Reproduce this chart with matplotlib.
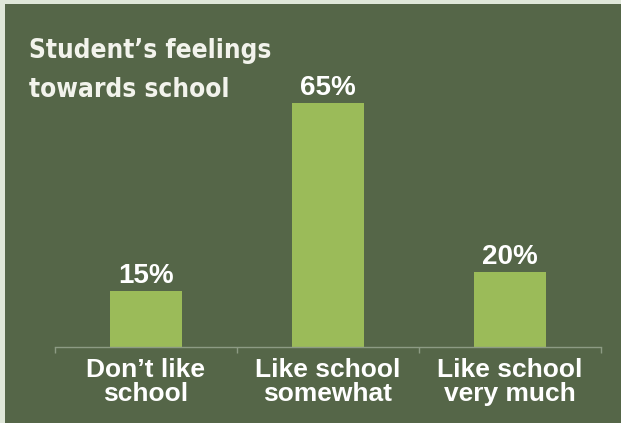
import matplotlib
matplotlib.use("Agg")
import matplotlib.pyplot as plt
from matplotlib.patches import Rectangle
from matplotlib import font_manager as fm

categories = ["Don\u2019t like\nschool", "Like school\nsomewhat", "Like school\nvery much"]
values = [15, 65, 20]
value_labels = ["15%", "65%", "20%"]
title_lines = ["Student\u2019s feelings", "towards school"]

BG = "#556648"
BORDER = "#dfe7d9"
BAR = "#9bbb59"
W, H = 621, 423
DPI = 100

fig = plt.figure(figsize=(W / DPI, H / DPI), dpi=DPI, facecolor=BORDER)
r = fig.canvas.get_renderer()

# heavy, condensed-looking bold for the title
title_family, title_stretch = "Liberation Sans", "normal"
try:
    p = fm.findfont(fm.FontProperties(family="DejaVu Sans", weight="bold", stretch="condensed"),
                    fallback_to_default=False)
    if "ondensed" in p:
        title_family, title_stretch = "DejaVu Sans", "condensed"
except Exception:
    pass
fp = fm.FontProperties(family=title_family, weight="bold", stretch=title_stretch, size=30)
w30, _, _ = r.get_text_width_height_descent(title_lines[0], fp, ismath=False)
_, hc, dc = r.get_text_width_height_descent("H", fp, ismath=False)
cap30 = hc - dc
s_cap = 30 * 22.0 / cap30
s_w = 30 * 214.0 / w30
title_size = (s_cap ** 0.5) * (s_w ** 0.5)

fig.patches.append(Rectangle((5 / W, 0), 1, (H - 4) / H, transform=fig.transFigure,
                             facecolor=BG, edgecolor="none", zorder=-10))

ax = fig.add_axes([55 / W, (H - 347) / H, 546 / W, 262.8 / H])
ax.set_zorder(1)
ax.set_facecolor("none")
x = list(range(len(values)))
ax.bar(x, values, width=0.4, color=BAR, zorder=2)
ax.set_xlim(-0.5, 2.5)
ax.set_ylim(0, 70)
for s in ["top", "right", "left"]:
    ax.spines[s].set_visible(False)
ax.spines["bottom"].set_color("#8d9b84")
ax.spines["bottom"].set_linewidth(1.0)
ax.set_yticks([])
ax.set_xticks([-0.5, 0.5, 1.5, 2.5])
ax.set_xticklabels([])
ax.tick_params(axis="x", length=4, width=1.0, color="#8d9b84", direction="out")

for i in x:
    ax.annotate(categories[i], xy=(i, 0), xytext=(0, -11), textcoords="offset pixels",
                ha="center", va="top", multialignment="center", linespacing=0.98,
                family=["Liberation Sans", "DejaVu Sans"], weight="bold",
                color="white", fontsize=19)
    ax.annotate(value_labels[i], xy=(i, values[i]), xytext=(0, 8), textcoords="offset pixels",
                ha="center", va="baseline", family=["Liberation Sans", "DejaVu Sans"],
                weight="bold", color="white", fontsize=20)

title_font = dict(family=[title_family, "DejaVu Sans"], stretch=title_stretch,
                  weight="bold", color="#f2f3ec", fontsize=title_size)
fig.text(29 / W, (H - 58) / H, title_lines[0], ha="left", va="baseline", **title_font)
fig.text(29 / W, (H - 97) / H, title_lines[1], ha="left", va="baseline", **title_font)

fig.savefig("out.png", dpi=DPI, facecolor=BORDER)
